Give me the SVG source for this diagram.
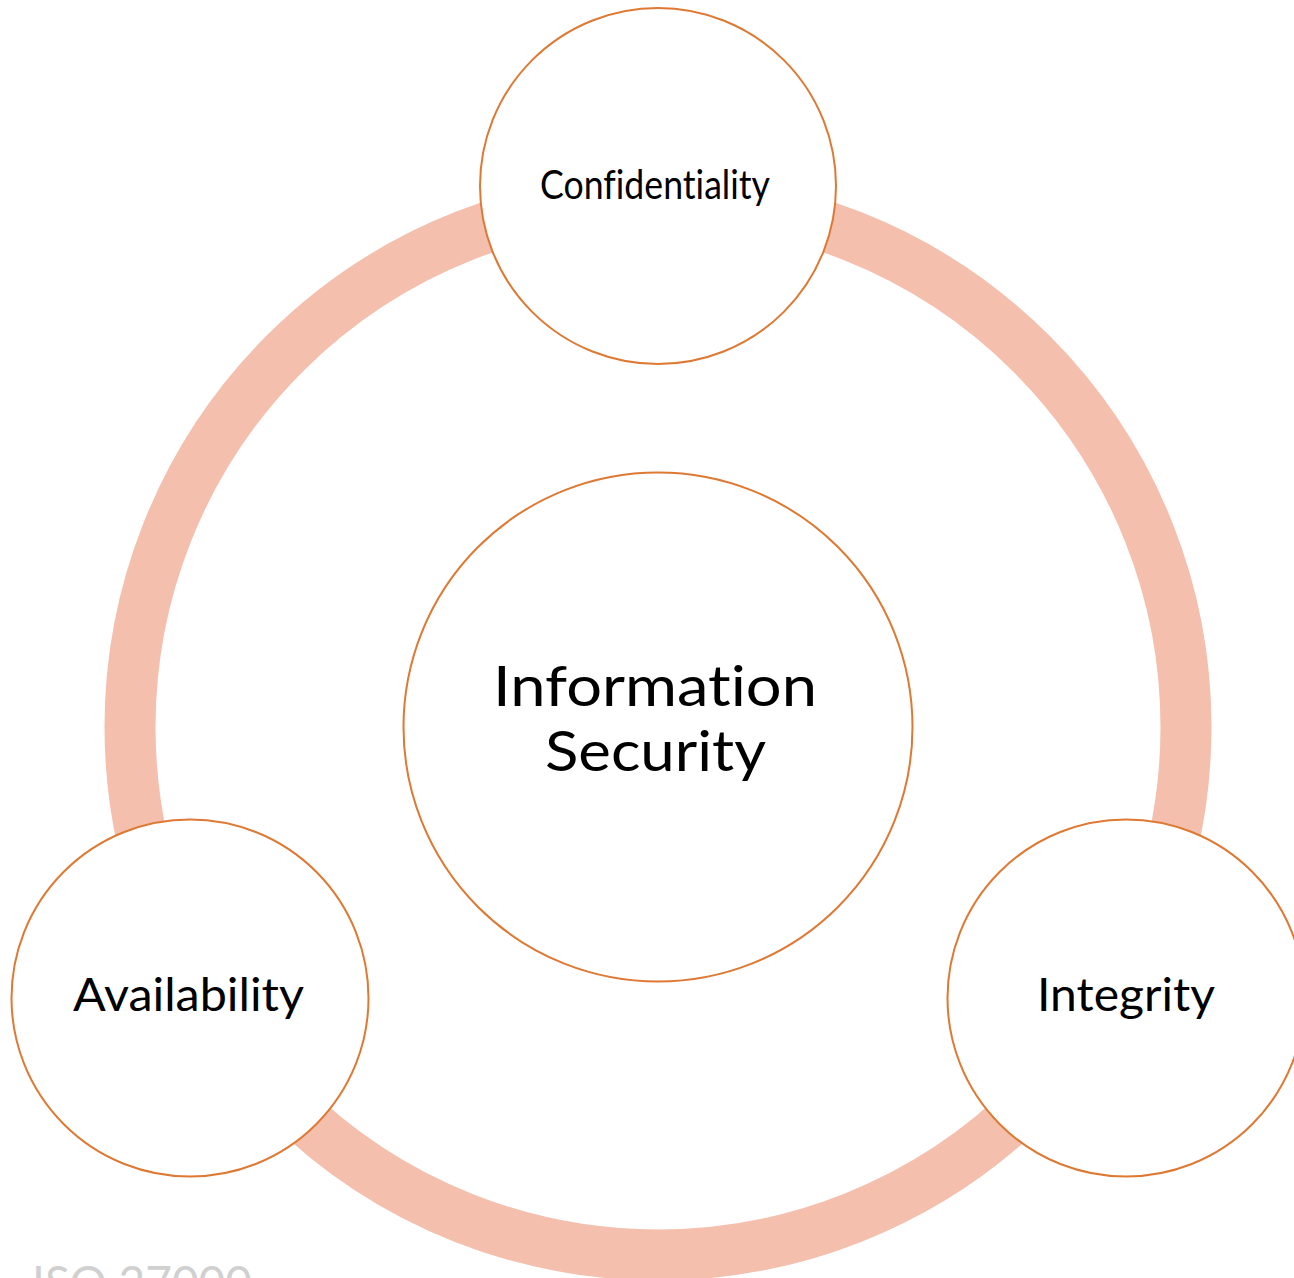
<svg xmlns="http://www.w3.org/2000/svg" width="1294" height="1278" viewBox="0 0 1294 1278">
  <style>
    .ring { fill: none; stroke: #f4bfad; stroke-width: 51; }
    .node { fill: #ffffff; stroke: #de7934; stroke-width: 2; }
    text { font-variant-ligatures: none; font-feature-settings: "liga" 0, "dlig" 0, "clig" 0; }
    .label { font-family: Lato, "Open Sans", "Liberation Sans", sans-serif; fill: #000000; }
    .caption { font-family: Lato, "Open Sans", "Liberation Sans", sans-serif; fill: #d0d0d0; }
  </style>
  <rect width="1294" height="1278" fill="#ffffff"/>

  <!-- cycle ring joining the three pillars -->
  <g id="connectors">
    <circle class="ring" cx="658" cy="727" r="528"/>
  </g>

  <g id="center">
    <circle class="node" cx="658" cy="727" r="254.5"/>
    <text class="label" x="493" y="706" font-size="57" textLength="324" lengthAdjust="spacingAndGlyphs">Information</text>
    <text class="label" x="545" y="771" font-size="57" textLength="221" lengthAdjust="spacingAndGlyphs">Security</text>
  </g>

  <g id="confidentiality">
    <circle class="node" cx="658" cy="186" r="178"/>
    <text class="label" x="540" y="199" font-size="40" textLength="230" lengthAdjust="spacingAndGlyphs">Confidentiality</text>
  </g>

  <g id="availability">
    <circle class="node" cx="190" cy="998" r="178.5"/>
    <text class="label" x="73" y="1011" font-size="47" textLength="231" lengthAdjust="spacingAndGlyphs">Availability</text>
  </g>

  <g id="integrity">
    <circle class="node" cx="1126" cy="998" r="178.5"/>
    <text class="label" x="1037" y="1011" font-size="46" textLength="178" lengthAdjust="spacingAndGlyphs">Integrity</text>
  </g>

  <!-- caption runs off the lower edge -->
  <g id="caption">
    <text class="caption" x="32" y="1299" font-size="47" textLength="220" lengthAdjust="spacingAndGlyphs">ISO 27000</text>
  </g>
</svg>
